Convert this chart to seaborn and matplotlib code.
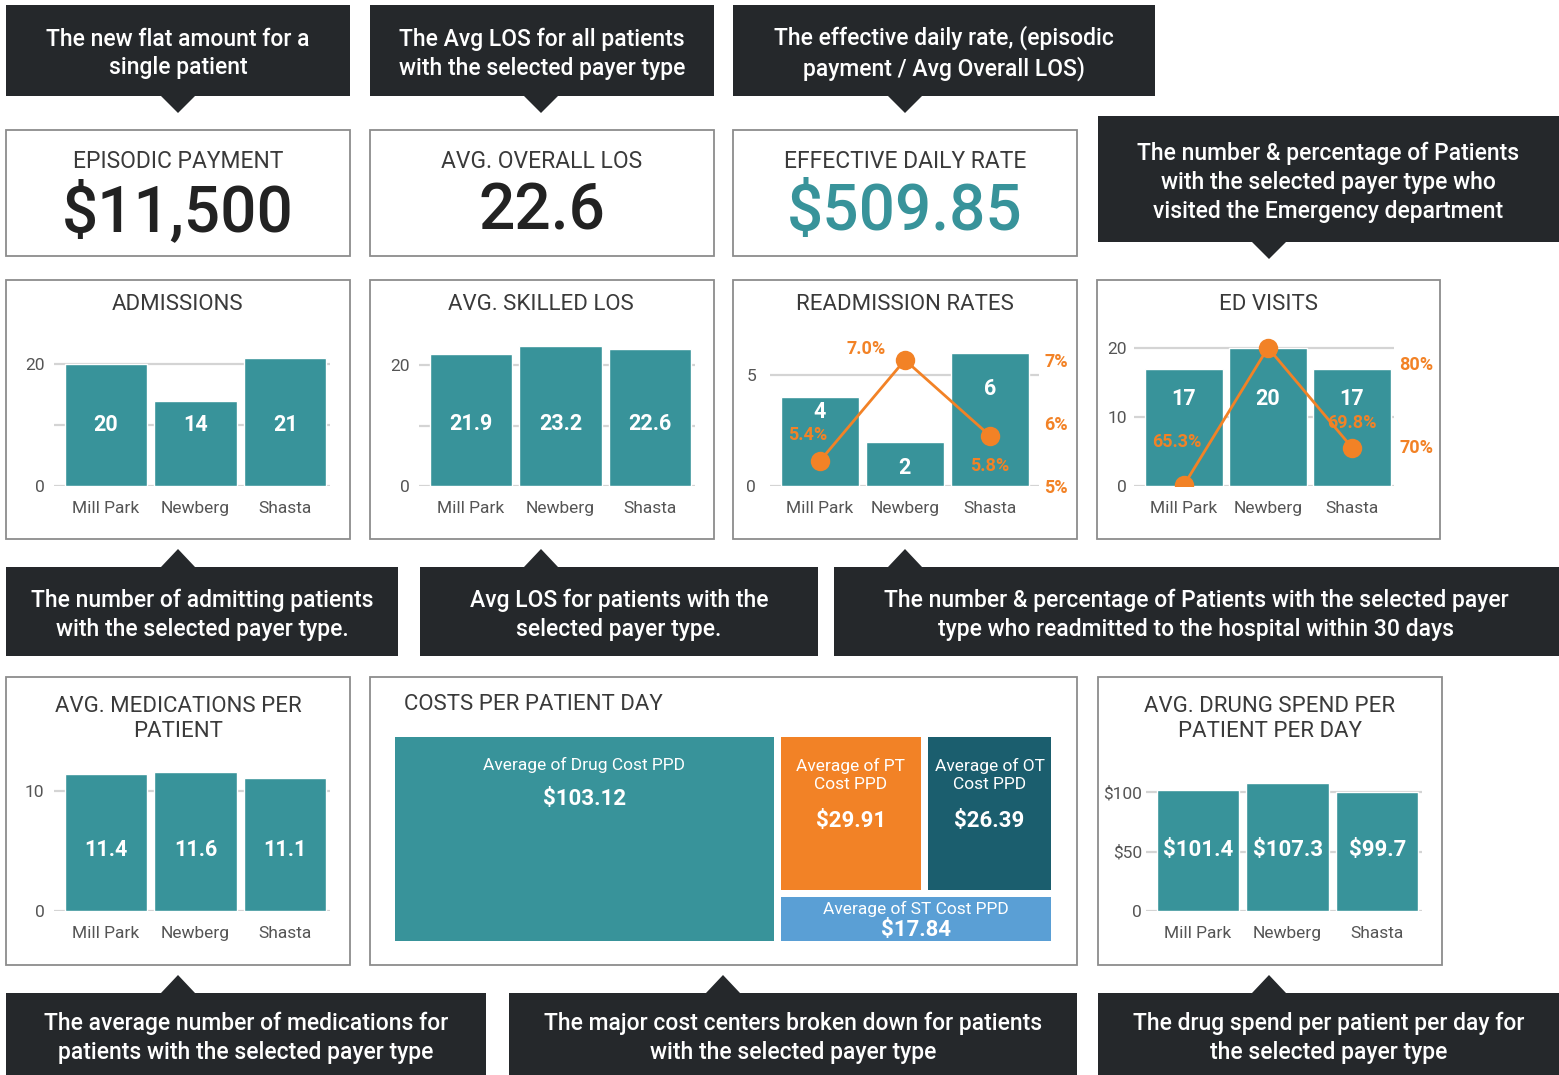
import numpy as np
import matplotlib
matplotlib.use('Agg')
import matplotlib.pyplot as plt
from matplotlib.patches import Rectangle, Polygon
import seaborn as sns

# ── Data ──
sites = ['Mill Park', 'Newberg', 'Shasta']
admissions = [20, 14, 21]
skilled_los = [21.9, 23.2, 22.6]
readmit_count = [4, 2, 6]
readmit_pct = [5.4, 7.0, 5.8]
ed_count = [17, 20, 17]
ed_pct = [65.3, 81.8, 69.8]
meds_per_patient = [11.4, 11.6, 11.1]
drug_spend_ppd = [101.4, 107.3, 99.7]

cost_labels = ['Average of Drug Cost PPD', 'Average of PT\nCost PPD',
               'Average of OT\nCost PPD', 'Average of ST Cost PPD']
cost_values = [103.12, 29.91, 26.39, 17.84]

episodic_payment = 11500
avg_overall_los = 22.6
effective_daily_rate = 509.85

# ── Style ──
sns.set_style('white')
plt.rcParams['font.family'] = ['Roboto', 'DejaVu Sans']

TEAL = '#38939a'
ORANGE = '#f28226'
DARK = '#25282b'
TXT = '#3a3a3a'
TICK = '#555555'
GRID = '#d4d4d4'
BORDER = '#8c8c8c'
cost_colors = [TEAL, ORANGE, '#1b5e6e', '#5a9fd5']

W, H = 1559, 1075
fig = plt.figure(figsize=(W / 100, H / 100), dpi=100)


def px_ax(x0, y0, x1, y1):
    return fig.add_axes([x0 / W, 1 - y1 / H, (x1 - x0) / W, (y1 - y0) / H])


bg = px_ax(0, 0, W, H)
bg.set_xlim(0, W)
bg.set_ylim(H, 0)
bg.axis('off')

# ── Cards ──
cards = [(6, 130, 350, 256), (370, 130, 714, 256), (733, 130, 1077, 256),
         (6, 280, 350, 539), (370, 280, 714, 539), (733, 280, 1077, 539),
         (1097, 280, 1440, 539), (6, 677, 350, 965), (370, 677, 1077, 965),
         (1098, 677, 1442, 965)]
for x0, y0, x1, y1 in cards:
    bg.add_patch(Rectangle((x0, y0), x1 - x0, y1 - y0, fc='white', ec=BORDER, lw=1.3))

# ── Callouts ──
callouts = [
    ((6, 5, 350, 96), 178, 'down', 'The new flat amount for a\nsingle patient'),
    ((370, 5, 714, 96), 541, 'down', 'The Avg LOS for all patients\nwith the selected payer type'),
    ((733, 5, 1155, 96), 905, 'down', 'The effective daily rate, (episodic\npayment / Avg Overall LOS)'),
    ((1098, 116, 1559, 242), 1269, 'down',
     'The number & percentage of Patients\nwith the selected payer type who\nvisited the Emergency department'),
    ((6, 567, 398, 656), 178, 'up', 'The number of admitting patients\nwith the selected payer type.'),
    ((420, 567, 818, 656), 541, 'up', 'Avg LOS for patients with the\nselected payer type.'),
    ((834, 567, 1559, 656), 905, 'up',
     'The number & percentage of Patients with the selected payer\ntype who readmitted to the hospital within 30 days'),
    ((6, 993, 486, 1075), 178, 'up', 'The average number of medications for\npatients with the selected payer type'),
    ((509, 993, 1077, 1075), 723, 'up', 'The major cost centers broken down for patients\nwith the selected payer type'),
    ((1098, 993, 1559, 1075), 1269, 'up', 'The drug spend per patient per day for\nthe selected payer type'),
]
for (x0, y0, x1, y1), tip, direction, text in callouts:
    bg.add_patch(Rectangle((x0, y0), x1 - x0, y1 - y0, fc=DARK, ec='none'))
    if direction == 'down':
        tri = [(tip - 17, y1), (tip + 17, y1), (tip, y1 + 17)]
    else:
        tri = [(tip - 17, y0), (tip + 17, y0), (tip, y0 - 18)]
    bg.add_patch(Polygon(tri, closed=True, fc=DARK, ec='none'))
    dy = 4 if y1 > 900 else 3
    bg.text((x0 + x1) / 2, (y0 + y1) / 2 + dy, text, ha='center', va='center',
            color='white', fontsize=16.5, fontweight='medium', linespacing=1.33)

# ── KPI cards ──
kpis = [
    ((6, 350), 'EPISODIC PAYMENT', f'${episodic_payment:,.0f}', '#222222'),
    ((370, 714), 'AVG. OVERALL LOS', f'{avg_overall_los:.1f}', '#222222'),
    ((733, 1077), 'EFFECTIVE DAILY RATE', f'${effective_daily_rate:,.2f}', TEAL),
]
for (x0, x1), title, value, col in kpis:
    cx = (x0 + x1) / 2
    bg.text(cx, 162, title, ha='center', va='center', color=TXT, fontsize=16.5, fontweight='normal')
    bg.text(cx, 212, value, ha='center', va='center', color=col, fontsize=46, fontweight='medium')

# ── Chart titles ──
titles = [(178, 305, 'ADMISSIONS'), (541, 305, 'AVG. SKILLED LOS'),
          (905, 305, 'READMISSION RATES'), (1269, 305, 'ED VISITS'),
          (178, 719, 'AVG. MEDICATIONS PER\nPATIENT'),
          (1270, 719, 'AVG. DRUNG SPEND PER\nPATIENT PER DAY')]
for x, y, t in titles:
    bg.text(x, y, t, ha='center', va='center', color=TXT, fontsize=16,
            fontweight='normal', linespacing=1.3)
bg.text(404, 704, 'COSTS PER PATIENT DAY', ha='left', va='center', color=TXT,
        fontsize=16, fontweight='normal')


def bar_panel(x0, x1, zero_px, unit_px, ymax, vals, xlim, yticks, yticklabels, ypad):
    top = zero_px - ymax * unit_px
    ax = px_ax(x0, top, x1, zero_px)
    ax.set_facecolor('none')
    sns.barplot(x=sites, y=vals, color=TEAL, saturation=1, width=0.92, ax=ax, zorder=2)
    ax.set_xlim(*xlim)
    ax.set_ylim(0, ymax)
    ax.set_yticks(yticks)
    ax.set_yticklabels(yticklabels)
    ax.set_axisbelow(True)
    ax.yaxis.grid(True, color=GRID, lw=1.6)
    ax.xaxis.grid(False)
    for s in ax.spines.values():
        s.set_visible(False)
    ax.tick_params(axis='y', length=0, pad=ypad, labelsize=12.5, labelcolor=TICK)
    ax.tick_params(axis='x', length=0, pad=11, labelsize=12.5, labelcolor=TICK)
    ax.set_xlabel('')
    ax.set_ylabel('')
    return ax


def bar_labels(ax, vals, ys, fmt, size=15.5):
    for i, (v, y) in enumerate(zip(vals, ys)):
        ax.text(i, y, fmt(v), ha='center', va='center', color='white',
                fontsize=size, fontweight='bold', zorder=5)


def pct_axis(ax, pcts, ylim, ticks, offsets):
    ax2 = ax.twinx()
    sns.lineplot(x=np.arange(len(pcts)), y=pcts, ax=ax2, color=ORANGE, lw=2,
                 marker='o', markersize=14, markeredgewidth=0, zorder=4)
    ax2.set_ylim(*ylim)
    ax2.set_yticks(ticks)
    ax2.set_yticklabels([f'{t}%' for t in ticks])
    ax2.tick_params(axis='y', length=0, pad=4, labelsize=13, labelcolor=ORANGE)
    for lbl in ax2.get_yticklabels():
        lbl.set_fontweight('bold')
    for s in ax2.spines.values():
        s.set_visible(False)
    ax2.set_ylabel('')
    ax2.grid(False)
    for i, (p, off) in enumerate(zip(pcts, offsets)):
        if off is None:
            continue
        ax2.annotate(f'{p:.1f}%', (i, p), xytext=(off[0] * 0.72, off[1] * 0.72),
                     textcoords='offset points', ha='center', va='center',
                     color=ORANGE, fontsize=13, fontweight='bold', zorder=6)
    return ax2


# Admissions
ax = bar_panel(54, 330, 486, 6.1, 22, admissions, (-0.58, 2.5), [0, 10, 20], ['0', '', '20'], 7)
bar_labels(ax, admissions, [10] * 3, lambda v: f'{v}')

# Avg skilled LOS
ax = bar_panel(419, 695, 486, 6.05, 24, skilled_los, (-0.58, 2.5), [0, 10, 20], ['0', '', '20'], 7)
bar_labels(ax, skilled_los, [10.2] * 3, lambda v: f'{v:.1f}')

# Readmission rates (bars + line on secondary axis)
ax = bar_panel(770, 1039, 486, 22.2, 6.6, readmit_count, (-0.59, 2.58), [0, 5], ['0', '5'], 10)
bar_labels(ax, readmit_count, [3.33, 0.81, 4.37], lambda v: f'{v}')
pct_axis(ax, readmit_pct, (5.0, 5.0 + 146.5 / 63), [5, 6, 7],
         [(-12, 26), (-39, 11), (0, -30)])

# ED visits (bars + line on secondary axis)
ax = bar_panel(1134, 1394, 486, 6.9, 21.5, ed_count, (-0.595, 2.5), [0, 10, 20], ['0', '10', '20'], 5)
bar_labels(ax, ed_count, [12.6] * 3, lambda v: f'{v}')
pct_axis(ax, ed_pct, (70 - 40 / 8.3, 80 + 25 / 8.3), [70, 80],
         [(-7, 43), None, (0, 25)])

# Avg medications per patient
ax = bar_panel(54, 330, 911, 12, 12.5, meds_per_patient, (-0.58, 2.5), [0, 10], ['0', '10'], 7)
bar_labels(ax, meds_per_patient, [5.1] * 3, lambda v: f'{v:.1f}')

# Avg drug spend per patient per day
ax = bar_panel(1146, 1422, 911, 1.19, 125, drug_spend_ppd, (-0.58, 2.5), [0, 50, 100],
               ['0', '$50', '$100'], 3)
bar_labels(ax, drug_spend_ppd, [51] * 3, lambda v: f'${v:.1f}', size=16)

# ── Treemap: costs per patient day ──
axt = px_ax(395, 737, 1058, 948)
axt.set_xlim(0, 1)
axt.set_ylim(1, 0)
axt.axis('off')
gx, gy = 7 / 663, 7 / 211
total = sum(cost_values)
w_drug = cost_values[0] / total
rest = total - cost_values[0]
h_top = (cost_values[1] + cost_values[2]) / rest
w_pt = cost_values[1] / (cost_values[1] + cost_values[2]) * (1 - w_drug)
tiles = [(0, 0, w_drug, 1),
         (w_drug, 0, w_pt, h_top),
         (w_drug + w_pt, 0, 1 - w_drug - w_pt, h_top),
         (w_drug, h_top, 1 - w_drug, 1 - h_top)]
label_dy = [(28, 62), (38, 84), (38, 84), (12, 33)]
for (x, y, w, h), col, lab, val, (dl, dv) in zip(tiles, cost_colors, cost_labels, cost_values, label_dy):
    axt.add_patch(Rectangle((x, y), w - gx, h - gy, fc=col, ec='none'))
    cx = x + (w - gx) / 2
    axt.text(cx, y + dl / 211, lab, ha='center', va='center', color='white',
             fontsize=12.5, fontweight='normal', linespacing=1.3)
    axt.text(cx, y + dv / 211, f'${val:.2f}', ha='center', va='center', color='white',
             fontsize=16, fontweight='bold')

fig.savefig('out.png', dpi=100)
